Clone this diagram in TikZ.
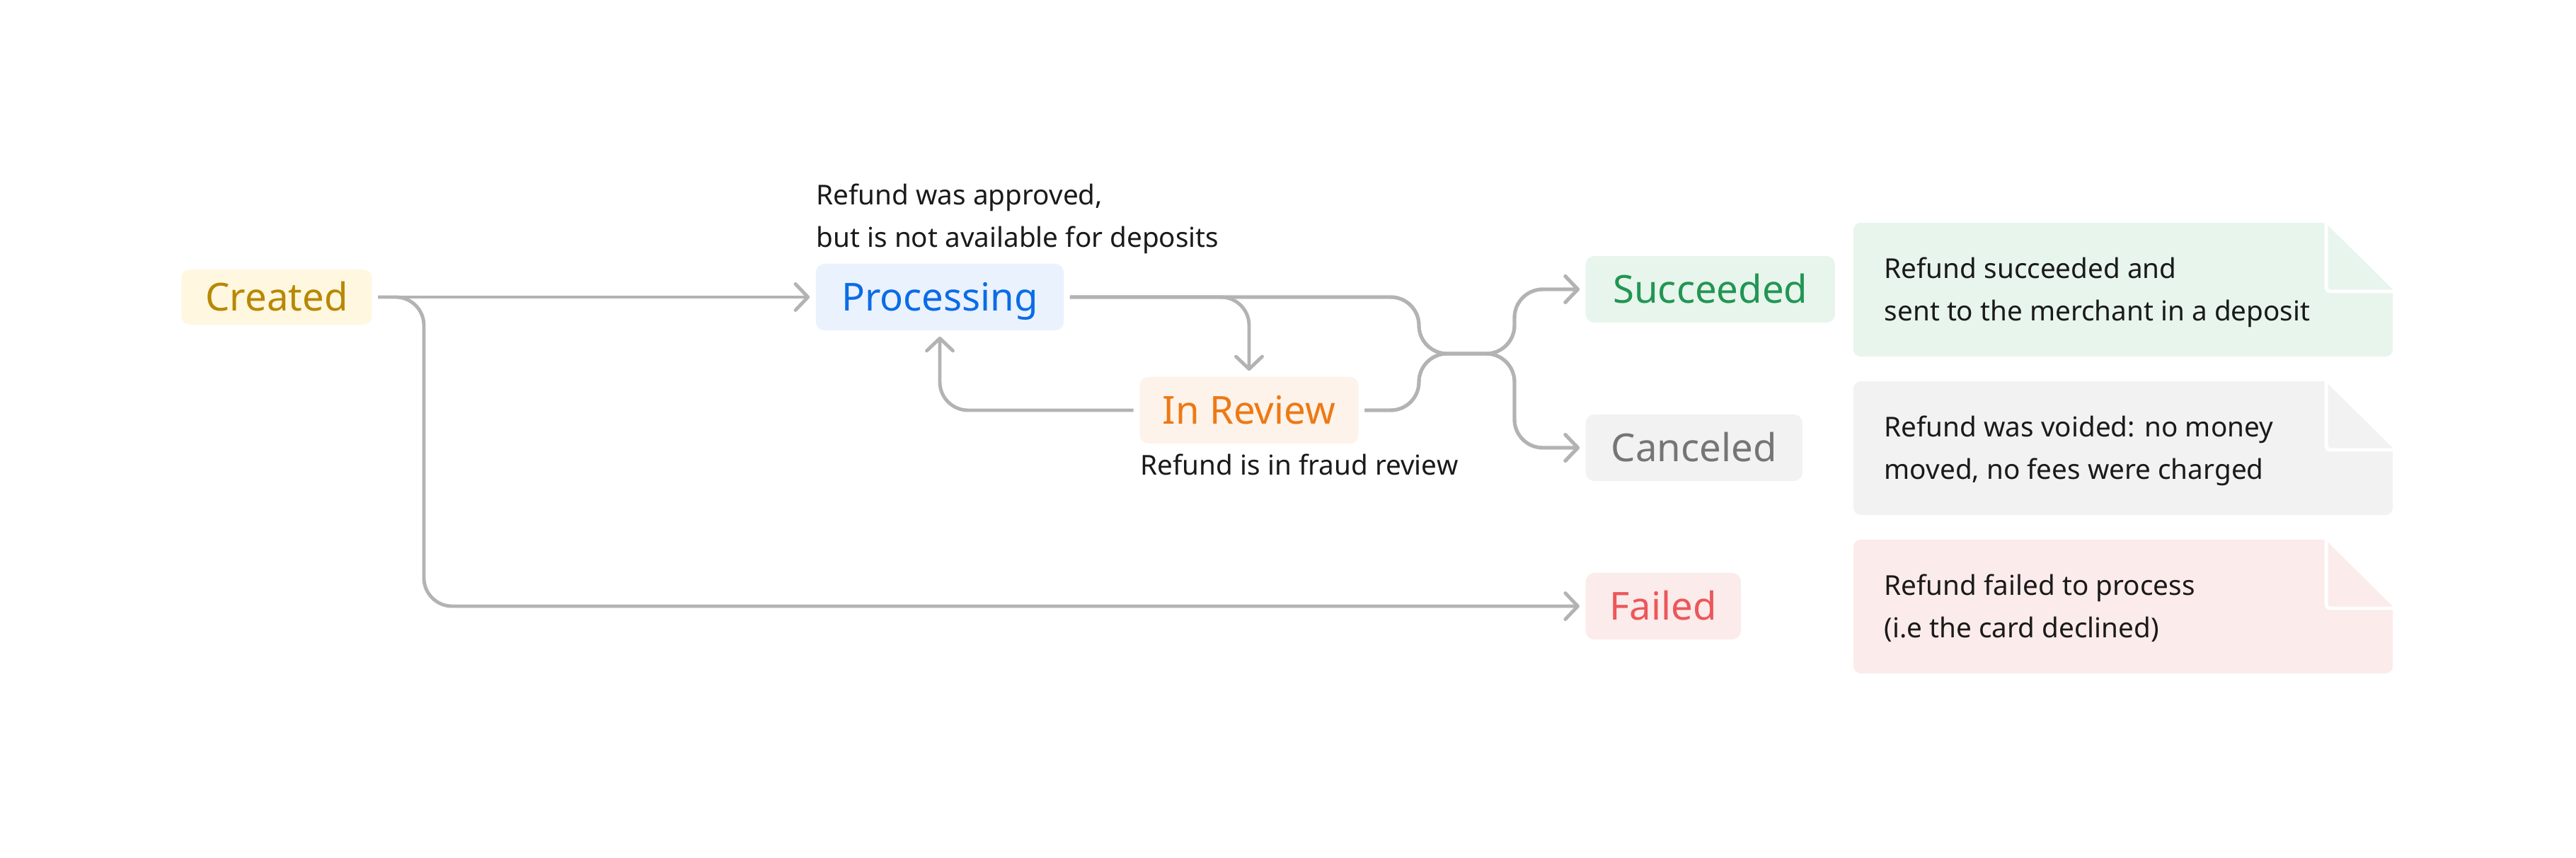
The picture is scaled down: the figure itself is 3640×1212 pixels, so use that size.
\documentclass[tikz,border=0pt]{standalone}
\usepackage{fontspec}
\setmainfont{Noto Sans}
\usepackage{tikz}
\usetikzlibrary{arrows.meta, positioning}

\definecolor{CreatedFill}  {RGB}{255, 247, 224}
\definecolor{CreatedText}  {RGB}{184, 136,   0}
\definecolor{ProcFill}     {RGB}{234, 242, 254}
\definecolor{ProcText}     {RGB}{ 11, 108, 230}
\definecolor{ReviewFill}   {RGB}{253, 243, 234}
\definecolor{ReviewText}   {RGB}{237, 121,  20}
\definecolor{SuccFill}     {RGB}{232, 245, 236}
\definecolor{SuccText}     {RGB}{ 33, 150,  83}
\definecolor{CancFill}     {RGB}{242, 242, 242}
\definecolor{CancText}     {RGB}{117, 117, 117}
\definecolor{FailFill}     {RGB}{252, 235, 235}
\definecolor{FailText}     {RGB}{236,  87,  90}
\definecolor{FlowGray}     {RGB}{179, 179, 179}
\definecolor{NoteText}     {RGB}{ 26,  26,  26}

\tikzset{
  state/.style={rounded corners=0.12cm, inner sep=0pt, minimum height=0.94cm,
                text height=11.1pt, text depth=0pt,
                font=\fontsize{15.5}{18}\selectfont},
  flow/.style={draw=FlowGray, line width=1.4pt, rounded corners=0.4cm,
               -{Straight Barb[length=5pt, width=10.5pt, round]},
               shorten >=2.3pt, shorten <=2.3pt},
  remark/.style={anchor=north west, inner sep=0pt, align=left, text=NoteText,
                 font=\fontsize{11}{17}\selectfont},
}

% note card with a folded corner: name, top edge, fill, text
\newcommand{\statenote}[4]{%
  \fill[#3, rounded corners=0.1cm] (2619,#2) rectangle (3381,#2+189);
  \fill[white] (3284,#2-2) -- (3384,#2-2) -- (3384,#2+97) -- cycle;
  \draw[white, line width=1.4pt, rounded corners=0.06cm]
    (3287,#2-2) -- (3287,#2+97) -- (3386,#2+97);
  \node[remark] (#1) at (2662,#2+48) {#4};
}

\begin{document}
\begin{tikzpicture}[x=0.01cm, y=-0.01cm]
  \useasboundingbox (0,0) rectangle (3640,1212);

  % states
  \node[state, fill=CreatedFill, text=CreatedText, minimum width=2.69cm,
        minimum height=0.78cm] (created) at (391,420) {Created};
  \node[state, fill=ProcFill, text=ProcText, minimum width=3.50cm]
        (processing) at (1328,420) {Processing};
  \node[state, fill=ReviewFill, text=ReviewText, minimum width=3.09cm]
        (review) at (1765,580) {In Review};
  \node[state, fill=SuccFill, text=SuccText, minimum width=3.52cm,
        anchor=west] (succeeded) at (2240,409) {Succeeded};
  \node[state, fill=CancFill, text=CancText, minimum width=3.06cm,
        anchor=west] (canceled) at (2240,633) {Canceled};
  \node[state, fill=FailFill, text=FailText, minimum width=2.19cm,
        anchor=west] (failed) at (2240,857) {Failed};

  % remarks on the states
  \node[remark] (processingnote) at (1153,259)
        {Refund was approved,\\but is not available for deposits};
  \node[remark] (reviewnote) at (1611,641) {Refund is in fraud review};

  % transitions
  \coordinate (drop) at (599,420);
  \coordinate (merge) at (2005,500);
  \coordinate (split) at (2140,500);
  \draw[flow] (created.east) -- (processing.west);
  \draw[flow] (created.east) -- (drop) |- (failed.west);
  \draw[flow] (processing.east) -| (review.north);
  \draw[flow] (review.west) -| (processing.south);
  \draw[flow] (processing.east) -| (merge) -- (split) |- (succeeded.west);
  \draw[flow] (processing.east) -| (merge) -- (split) |- (canceled.west);
  \draw[flow] (review.east) -| (merge) -- (split) |- (succeeded.west);
  \draw[flow] (review.east) -| (merge) -- (split) |- (canceled.west);

  % outcome notes
  \statenote{succeedednote}{315}{SuccFill}
    {Refund succeeded and\\sent to the merchant in a deposit}
  \statenote{cancelednote}{539}{CancFill}
    {Refund was voided: no money\\moved, no fees were charged}
  \statenote{failednote}{763}{FailFill}
    {Refund failed to process\\(i.e the card declined)}
\end{tikzpicture}
\end{document}
